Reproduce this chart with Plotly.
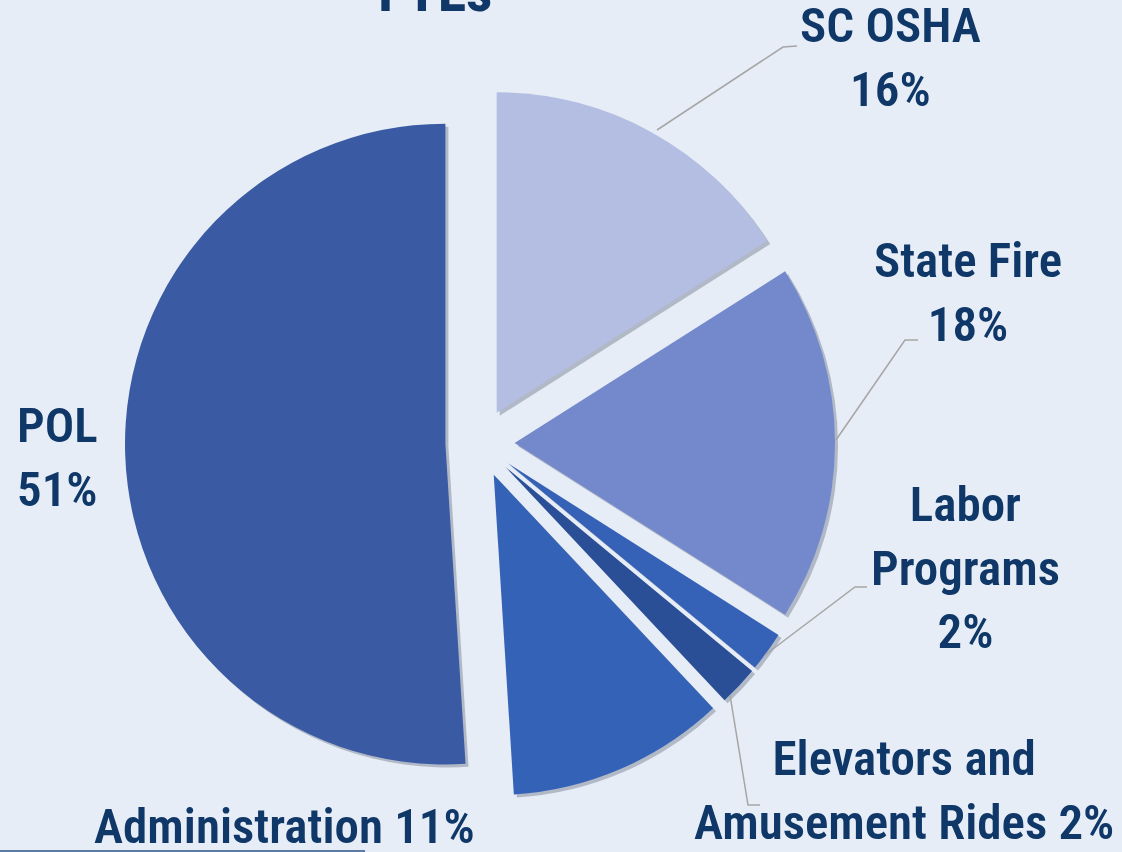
import plotly.graph_objects as go

# ---- data ----
categories = ["SC OSHA", "State Fire", "Labor Programs", "Elevators and Amusement Rides", "Administration", "POL"]
values = [16, 18, 2, 2, 11, 51]
label_texts = ["SC OSHA<br>16%", "State Fire<br>18%", "Labor<br>Programs<br>2%",
               "Elevators and<br>Amusement Rides 2%", "Administration 11%", "POL<br>51%"]
colors = ["#b4bee2", "#7489cc", "#3561b6", "#2b4f97", "#3462b7", "#3a5aa4"]
title_text = "FTEs"

W, H = 1122, 852
BG = "#e6edf6"
TXT = "#0f3768"
FONT = "Roboto Condensed, Noto Sans Condensed, Open Sans Condensed, Liberation Sans Narrow, DejaVu Sans Condensed, sans-serif"


def px(x, y):
    return x / W, 1 - y / H


pull = 0.108
dom_x = [125 / W, 835 / W]
dom_y = [1 - 798 / H, 1 - 88 / H]

fig = go.Figure()
# soft shadow layer
sh = 3
fig.add_trace(go.Pie(
    labels=categories, values=values, sort=False, direction="clockwise", rotation=0,
    pull=[pull] * len(values), textinfo="none", hoverinfo="skip",
    marker=dict(colors=["rgba(40,50,80,0.28)"] * len(values), line=dict(width=0)),
    domain=dict(x=[dom_x[0] + sh / W, dom_x[1] + sh / W], y=[dom_y[0] - sh / H, dom_y[1] - sh / H]),
    showlegend=False,
))
fig.add_trace(go.Pie(
    labels=categories, values=values, sort=False, direction="clockwise", rotation=0,
    pull=[pull] * len(values), textinfo="none", hoverinfo="label+value",
    marker=dict(colors=colors, line=dict(width=0)),
    domain=dict(x=dom_x, y=dom_y),
    showlegend=False,
))

# label annotations (centers in px)
label_pos = [(890, 58), (968, 292), (965, 568), (904, 790), (284, 826), (57, 457)]
annotations = []
for t, (x, y) in zip(label_texts, label_pos):
    ax, ay = px(x, y)
    annotations.append(dict(text=t, x=ax, y=ay, xref="paper", yref="paper",
                            xanchor="center", yanchor="middle", showarrow=False,
                            align="center",
                            font=dict(family=FONT, size=49, color=TXT, weight=600)))
tx, ty = px(435, 26)
annotations.append(dict(text=title_text, x=tx, y=ty, xref="paper", yref="paper",
                        xanchor="center", yanchor="bottom", showarrow=False, borderpad=0,
                        font=dict(family=FONT, size=58, color=TXT, weight="bold")))

# leader lines
leaders = [
    [(657, 130), (783, 47), (797, 46)],
    [(836, 440), (905, 340), (918, 340)],
    [(765, 655), (855, 587), (867, 587)],
    [(730, 695), (748, 805), (760, 805)],
]
shapes = []
for pts in leaders:
    path = "M " + " L ".join(f"{x},{y}" for x, y in [(px(a, b)) for a, b in pts])
    shapes.append(dict(type="path", path=path, xref="paper", yref="paper",
                       line=dict(color="#a6a6a6", width=1.5)))
x0, y0 = px(0, 851)
x1, y1 = px(365, 851)
shapes.append(dict(type="line", x0=x0, y0=y0, x1=x1, y1=y1, xref="paper", yref="paper",
                   line=dict(color="#5c7aa3", width=2)))

fig.update_layout(
    width=W, height=H, autosize=False,
    margin=dict(l=0, r=0, t=0, b=0),
    paper_bgcolor=BG, plot_bgcolor=BG,
    annotations=annotations, shapes=shapes,
    showlegend=False,
)
fig.write_html("out.html", config={"displayModeBar": False},
               post_script="document.body.style.margin='0';document.body.style.overflow='hidden';")
